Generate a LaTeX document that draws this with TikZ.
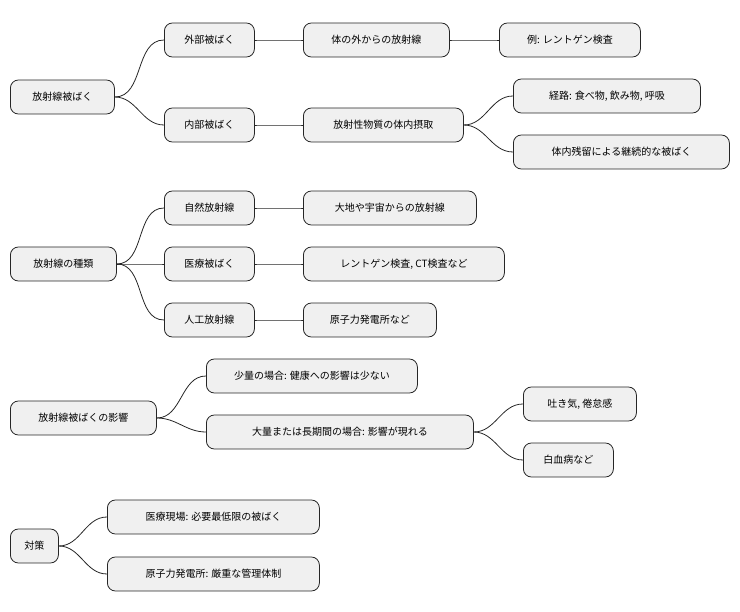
\documentclass[tikz,border=0pt]{standalone}
\usepackage{fontspec}
\setmainfont{Noto Sans CJK JP}
\begin{document}
\begin{tikzpicture}[x=1pt,y=-1pt,
 n/.style={draw=black!85,line width=0.8pt,fill=black!6,rounded corners=8pt,anchor=west,minimum height=34pt,inner xsep=0pt,font=\fontsize{10}{12}\selectfont,align=center},
 c/.style={draw=black!85,line width=0.8pt}]
\useasboundingbox (0,0) rectangle (740,612);
\newcommand\nd[5]{\node[n,minimum width=#4] (#1) at (#2,#3) {#5};}
\nd{a}{10}{97}{104}{放射線被ばく}
\nd{a1}{164}{40}{90}{外部被ばく}
\nd{a11}{303}{40}{146}{体の外からの放射線}
\nd{a111}{499}{40}{141}{例: レントゲン検査}
\nd{a2}{164}{125}{90}{内部被ばく}
\nd{a21}{303}{125}{160}{放射性物質の体内摂取}
\nd{a211}{513}{96}{187}{経路: 食べ物, 飲み物, 呼吸}
\nd{a212}{513}{152}{216}{体内残留による継続的な被ばく}
\nd{b}{10}{264}{106}{放射線の種類}
\nd{b1}{164}{208}{90}{自然放射線}
\nd{b11}{303}{208}{173}{大地や宇宙からの放射線}
\nd{b2}{164}{264}{90}{医療被ばく}
\nd{b21}{303}{264}{201}{レントゲン検査, CT検査など}
\nd{b3}{164}{320}{90}{人工放射線}
\nd{b31}{303}{320}{133}{原子力発電所など}
\nd{c}{10}{418}{146}{放射線被ばくの影響}
\nd{c1}{206}{376}{211}{少量の場合: 健康への影響は少ない}
\nd{c2}{206}{432}{267}{大量または長期間の場合: 影響が現れる}
\nd{c21}{523}{404}{113}{吐き気, 倦怠感}
\nd{c22}{523}{460}{90}{白血病など}
\nd{d}{10}{546}{48}{対策}
\nd{d1}{107}{517}{212}{医療現場: 必要最低限の被ばく}
\nd{d2}{107}{574}{212}{原子力発電所: 厳重な管理体制}
\foreach \p/\q in {a/a1,a/a2,a1/a11,a11/a111,a2/a21,a21/a211,a21/a212,b/b1,b/b2,b/b3,b1/b11,b2/b21,b3/b31,c/c1,c/c2,c2/c21,c2/c22,d/d1,d/d2}
 \draw[c] (\p.east) to[out=0,in=180] (\q.west);
\end{tikzpicture}
\end{document}
